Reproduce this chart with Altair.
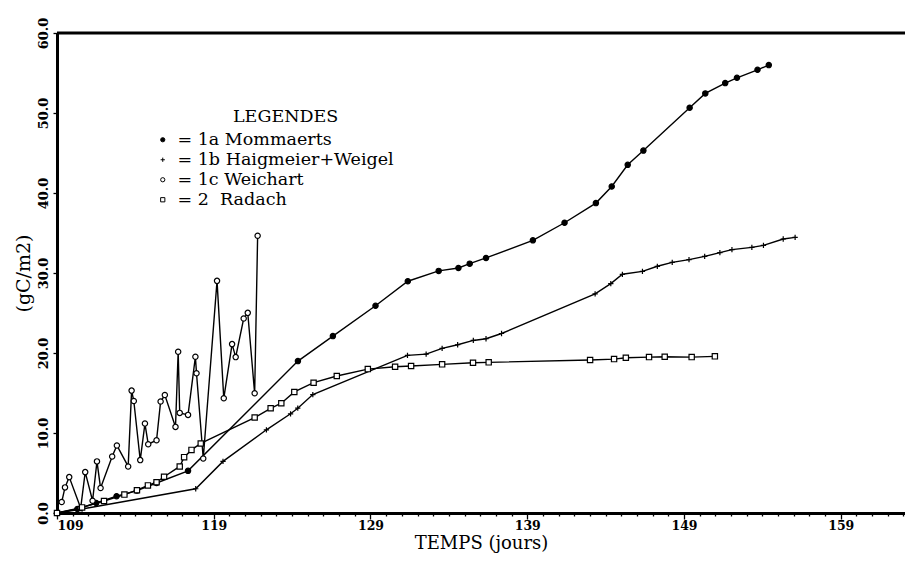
import altair as alt
import pandas as pd

# ---------------- data ----------------
series_names = ["= 1a Mommaerts", "= 1b Haigmeier+Weigel", "= 1c Weichart", "= 2\u00a0\u00a0Radach"]
legend_title = "LEGENDES"

mom_x = [109.0, 110.3, 111.5, 112.8, 114.1, 115.35, 117.36, 124.37, 126.60, 129.32, 131.38, 133.35,
         134.61, 135.33, 136.37, 139.36, 141.38, 143.38, 144.39, 145.41, 146.41, 149.36, 150.36,
         151.63, 152.38, 153.69, 154.41]
mom_y = [0.0, 0.5, 1.25, 2.1, 2.8, 3.75, 5.27, 18.99, 22.11, 25.9, 28.97, 30.26,
         30.63, 31.17, 31.88, 34.08, 36.28, 38.74, 40.81, 43.52, 45.30, 50.66, 52.45,
         53.74, 54.40, 55.40, 55.99]

hai_x = [109.0, 110.6, 117.85, 119.59, 122.36, 123.9, 124.36, 125.32, 131.36, 132.55, 133.57,
         134.56, 135.56, 136.37, 137.36, 143.33, 144.33, 145.07, 146.35, 147.30, 148.25, 149.32,
         150.32, 151.29, 152.06, 153.33, 154.07, 155.33, 156.09]
hai_y = [0.0, 0.5, 3.03, 6.45, 10.4, 12.4, 13.1, 14.8, 19.70, 19.86, 20.57,
         21.03, 21.57, 21.78, 22.44, 27.39, 28.68, 29.84, 30.21, 30.84, 31.33, 31.67,
         32.08, 32.54, 32.92, 33.20, 33.45, 34.25, 34.45]

wei_x = [109.30, 109.51, 109.78, 110.51, 110.80, 111.27, 111.55, 111.78, 112.52, 112.82, 113.54,
         113.76, 113.90, 114.31, 114.61, 114.82, 115.35, 115.61, 115.88, 116.56, 116.73, 116.83,
         117.36, 117.83, 117.90, 118.33, 119.21, 119.64, 120.17, 120.40, 120.91, 121.17, 121.61,
         121.80]
wei_y = [1.37, 3.20, 4.49, 0.62, 5.11, 1.53, 6.45, 3.12, 7.07, 8.44, 5.82,
         15.30, 14.00, 6.61, 11.18, 8.60, 9.10, 13.93, 14.75, 10.76, 20.16, 12.51,
         12.26, 19.54, 17.46, 6.82, 29.02, 14.34, 21.11, 19.49, 24.31, 25.02, 14.96,
         34.66]

rad_x = [109.0, 110.6, 112.0, 113.3, 114.1, 114.8, 115.35, 115.83, 116.83, 117.11, 117.58, 118.17,
         121.61, 122.63, 123.31, 124.14, 125.37, 126.85, 128.83, 130.57, 131.59, 133.57, 135.54,
         136.54, 143.01, 144.54, 145.29, 146.77, 147.77, 149.49, 150.97]
rad_y = [0.0, 0.7, 1.5, 2.3, 2.85, 3.45, 3.85, 4.53, 5.82, 6.98, 7.89, 8.69,
         11.93, 13.09, 13.72, 15.13, 16.29, 17.12, 17.99, 18.29, 18.37, 18.58, 18.79,
         18.83, 19.12, 19.24, 19.41, 19.49, 19.54, 19.49, 19.58]

x_ticks = list(range(109, 164))
y_ticks = [0, 10, 20, 30, 40, 50, 60]

rows = []
for name, xs, ys in zip(series_names, [mom_x, hai_x, wei_x, rad_x], [mom_y, hai_y, wei_y, rad_y]):
    for i, (xv, yv) in enumerate(zip(xs, ys)):
        rows.append({"series": name, "day": xv, "val": yv, "idx": i})
df = pd.DataFrame(rows)

# ---------------- chart ----------------
W, H = 848, 480
SERIF = "DejaVu Serif"

xscale = alt.Scale(domain=[109, 163.1], nice=False, zero=False)
yscale = alt.Scale(domain=[0, 60], nice=False, zero=False)

x_axis = alt.Axis(
    values=x_ticks,
    labelExpr="datum.value % 10 == 9 ? datum.value : ''",
    labelOverlap=False,
    tickSize={"condition": {"test": "datum.value % 10 == 9", "value": 6}, "value": 3},
    tickWidth=1.3, tickColor="black",
    domainWidth=3, domainColor="black",
    labelFont=SERIF, labelFontSize=12.5, labelFontWeight="bold", labelColor="black",
    labelPadding=0,
    title="TEMPS (jours)", titleFont=SERIF, titleFontSize=18, titleFontWeight="normal",
    titleColor="black", titleBaseline="alphabetic", titleY=35,
    grid=False,
)
y_axis = alt.Axis(
    values=y_ticks, format=".1f", labelAngle=270, labelFlush=False,
    tickSize=4, tickWidth=1.3, tickColor="black",
    domainWidth=3, domainColor="black",
    labelFont=SERIF, labelFontSize=13, labelFontWeight="bold", labelColor="black",
    labelPadding=3,
    title="(gC/m2)", titleFont=SERIF, titleFontSize=19, titleFontWeight="normal",
    titleColor="black", titlePadding=4,
    grid=False,
)

legend = alt.Legend(
    title=None,
    orient="none", legendX=97, legendY=98,
    labelFont=SERIF, labelFontSize=17.5, labelColor="black", labelOffset=6, labelLimit=0,
    symbolSize=18, symbolStrokeColor="black", symbolStrokeWidth=1,
    rowPadding=1, padding=0,
)

shape_range = ["circle", "M-1,0H1M0,-1V1", "circle", "square"]
fill_range = ["black", "black", "white", "white"]
stroke_range = ["black", "black", "black", "black"]

top_rule = alt.Chart(pd.DataFrame({"a": [0]})).mark_rule(color="black", strokeWidth=3).encode(
    x=alt.value(0), x2=alt.value(W), y=alt.value(0)
)

title_text = alt.Chart(pd.DataFrame({"t": [legend_title]})).mark_text(
    font=SERIF, fontSize=17.5, color="black", align="left", baseline="alphabetic"
).encode(text="t:N", x=alt.value(176), y=alt.value(89))

lines = alt.Chart(df).mark_line(color="black", strokeWidth=1.4).encode(
    x=alt.X("day:Q", scale=xscale, axis=x_axis),
    y=alt.Y("val:Q", scale=yscale, axis=y_axis),
    detail="series:N",
    order="idx:Q",
)

points = alt.Chart(df).mark_point(strokeWidth=1.2, opacity=1, fillOpacity=1).encode(
    x=alt.X("day:Q", scale=xscale, axis=x_axis),
    y=alt.Y("val:Q", scale=yscale, axis=y_axis),
    shape=alt.Shape("series:N", scale=alt.Scale(domain=series_names, range=shape_range), legend=legend),
    fill=alt.Fill("series:N", scale=alt.Scale(domain=series_names, range=fill_range), legend=legend),
    stroke=alt.Stroke("series:N", scale=alt.Scale(domain=series_names, range=stroke_range), legend=legend),
    size=alt.value(28),
)

chart = alt.layer(top_rule, title_text, lines, points).properties(
    width=W, height=H,
    autosize=alt.AutoSizeParams(type="none"),
    padding={"left": 49, "top": 25, "right": 0, "bottom": 41},
).configure_view(stroke=None).configure(background="white")

chart.save("out.html", embed_options={"renderer": "svg", "actions": False})
